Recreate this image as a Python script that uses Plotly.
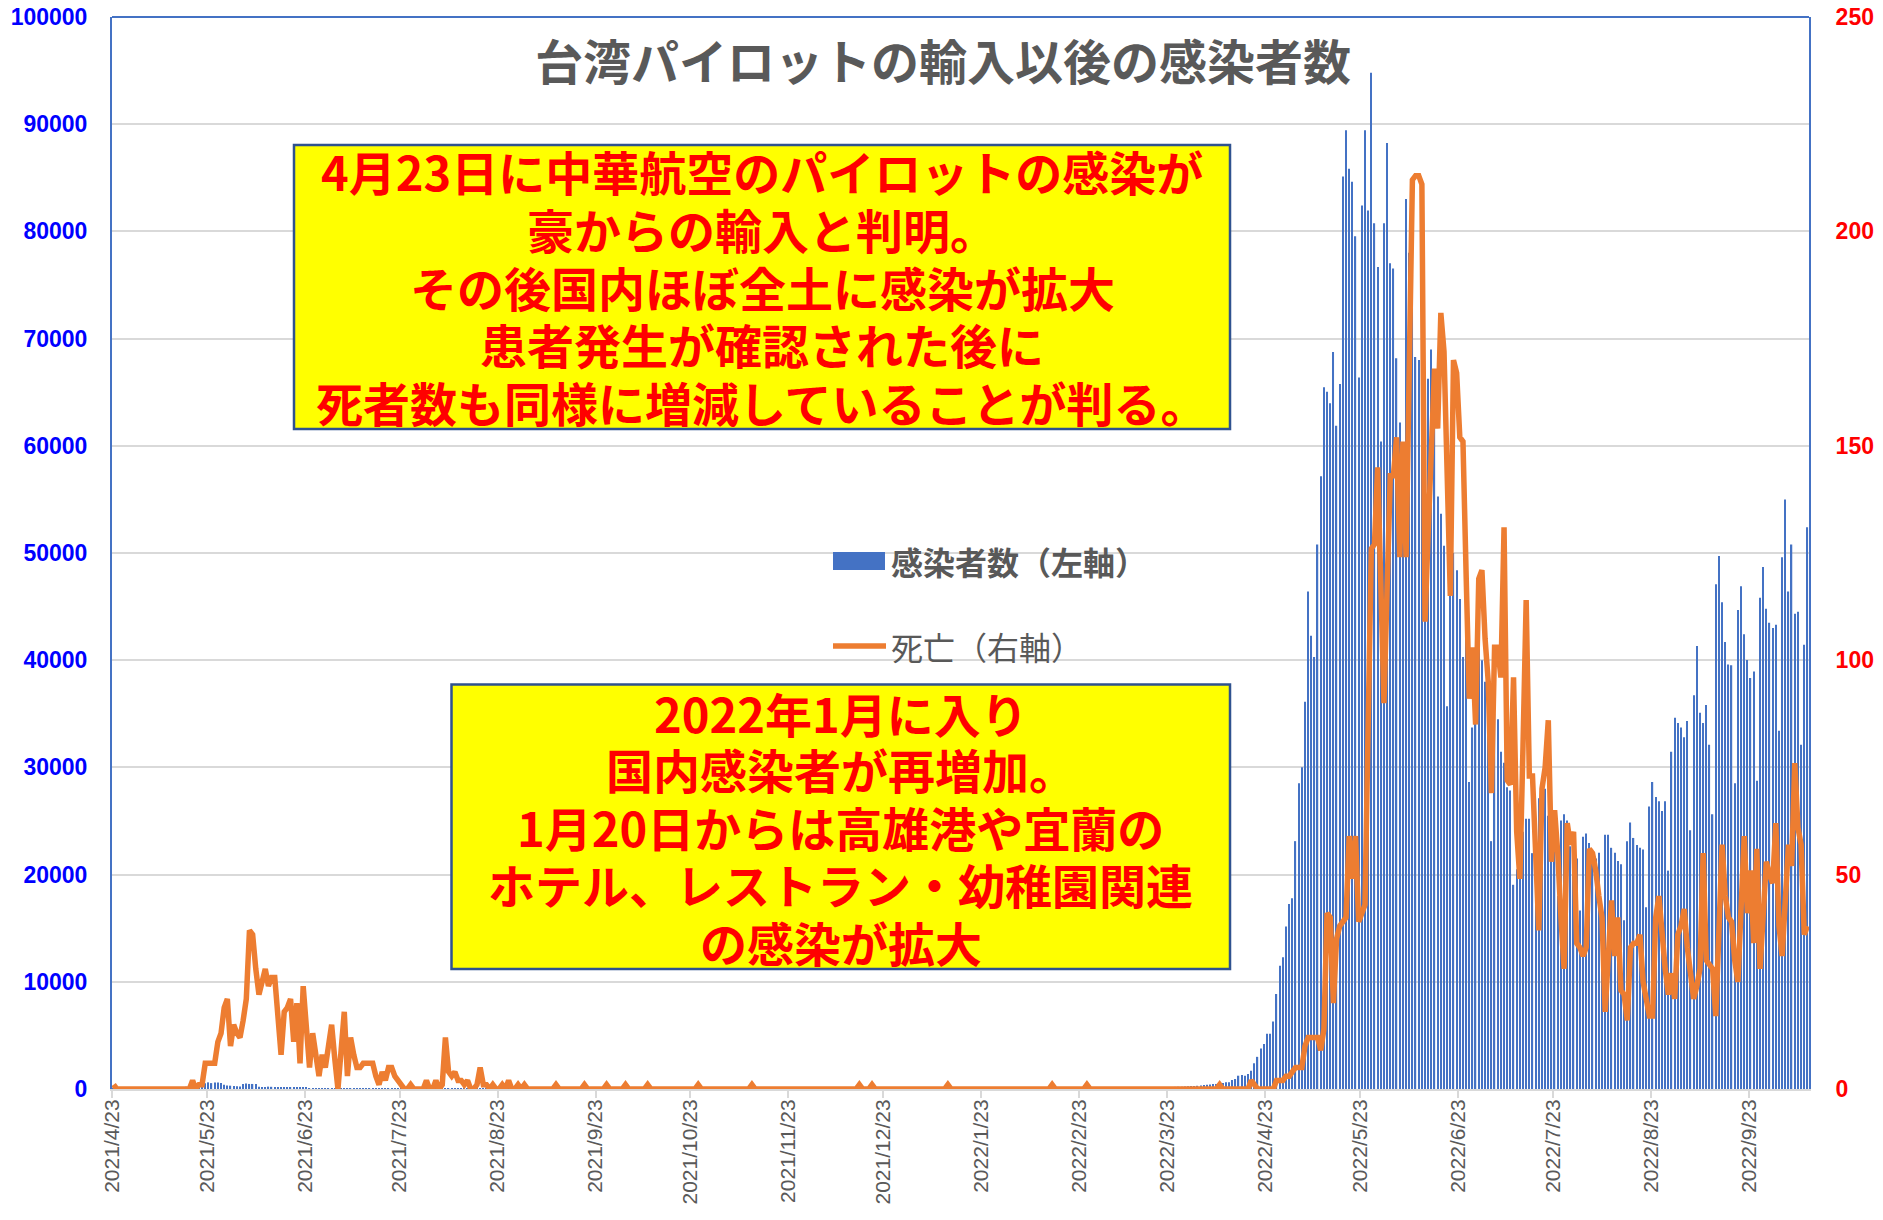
import datetime as dt
import plotly.graph_objects as go

START = "2021/4/23"

# daily new cases (left axis) - 2021-04-23 .. 2021-12-31
cases_2021 = [
    2, 1, 3, 2, 4, 1, 3, 2,
    3, 2, 1, 3, 4, 2, 3, 6, 5, 6, 16, 13, 16, 34, 185, 207, 335, 267, 286, 312, 321, 530, 620,
    550, 600, 600, 560, 400, 330, 310, 270,
    250, 230, 470, 510, 470, 470, 470, 220, 160, 165, 220, 205, 185, 190, 170, 150, 160, 135, 125, 130,
    105, 95, 100, 82, 78, 85, 66, 60, 64, 50,
    52, 40, 45, 38, 30, 33, 28, 35, 26, 22, 24, 30, 20, 18, 25, 21, 16, 19, 14, 23, 17, 12, 15, 20,
    13, 11, 16, 18, 10, 14, 12,
    12, 9, 15, 11, 8, 13, 16, 10, 7, 12, 9, 14, 11, 8, 10, 13, 6, 9, 12, 7, 11, 10, 8, 14, 9, 6, 12,
    10, 7, 11, 9,
    8, 12, 10, 6, 9, 14, 11, 7, 10, 8, 13, 9, 6, 11, 10, 8, 12, 7, 9, 11, 6, 10, 13, 8, 9, 7, 11, 10,
    6, 12,
    9, 7, 11, 8, 10, 12, 6, 9, 13, 8, 10, 7, 11, 9, 12, 8, 6, 10, 14, 9, 11, 7, 10, 8, 12, 9, 6, 11,
    10, 13, 8,
    10, 12, 9, 14, 11, 8, 13, 10, 15, 12, 9, 11, 16, 10, 13, 12, 8, 14, 11, 17, 10, 12, 15, 9, 13, 11,
    18, 14, 10, 16,
    12, 15, 11, 18, 14, 10, 16, 13, 19, 12, 15, 17, 11, 20, 14, 16, 18, 13, 21, 15, 17, 19, 14, 22,
    18, 16, 20, 24, 19, 23, 26,
]

# daily new cases (left axis) - 2022-01-01 .. 2022-10-11
cases_2022 = [
    23, 20, 35, 40, 48, 45, 38, 50, 60, 55, 62, 83, 66, 50, 80, 78, 94, 70, 64, 78, 82, 67, 58, 47,
    62, 59, 70, 52, 35, 34, 40,
    45, 38, 30, 34, 44, 50, 49, 52, 56, 53, 42, 41, 39, 45, 42, 60, 51, 53, 50, 55, 58, 62, 57, 64,
    48, 72, 78, 80,
    68, 80, 75, 70, 84, 90, 101, 95, 88, 99, 110, 105, 103, 118, 121, 130, 150, 138, 140, 155, 160,
    165, 170, 190, 195, 210, 220, 240, 260, 280, 290,
    300, 330, 380, 400, 430, 470, 470, 520, 560, 620, 620, 840, 930, 1240, 1300, 1240, 1400, 1700,
    2400, 3000, 3770, 4190, 5150, 5150, 6290, 8860, 11500, 12280, 15150, 17250,
    17790, 23120, 28510, 30010, 36120, 46420, 42290, 40310, 50800, 57150, 65470, 65050, 63970,
    68760, 61880, 65770, 85120, 89430, 85840, 84640, 79550, 66370, 82420, 89430, 81940, 94800,
    80750, 76670, 60400, 80750, 88240,
    77030, 76550, 68160, 62170, 58000, 83030, 78000, 76000, 68280, 68000, 64000, 50000, 66250,
    68990, 64000, 55280, 53660, 50680, 35700, 48000, 50000, 48400, 45700, 40310, 44500, 28630,
    33720, 40000, 42000, 40000,
    38000, 34920, 23120, 35000, 34500, 31450, 30430, 28150, 27850, 19050, 20500, 20300, 24000,
    25220, 25220, 22000, 17500, 27130, 25000, 28000, 25500, 25500, 25940, 18000, 25040, 25640,
    25040, 22640, 22500, 21500, 16650,
    23540, 23840, 22940, 22000, 21500, 22040, 16000, 23720, 23720, 22500, 22040, 21260, 20960,
    15750, 23120, 24860, 23420, 22760, 22500, 22340, 16950, 26360, 28630, 27250, 26840, 25940,
    26840, 20370, 31450, 34620, 34140,
    33720, 32820, 34320, 24140, 36720, 41330, 35100, 34140, 35820, 32110, 25640, 47080, 49720,
    45400, 41690, 39590, 39530, 28510, 44680, 46900, 42410, 40010, 38340, 38940, 28750, 45820,
    48700, 44800, 43490, 43010,
    43310, 33420, 49600, 54990, 46420, 50800, 44330, 44510, 32110, 41450, 52410,
]

# daily deaths (right axis) - 2021-04-23 .. 2021-12-31
deaths_2021 = [
    1, 0, 0, 0, 0, 0, 0, 0,
    0, 0, 0, 0, 0, 0, 0, 0, 0, 0, 0, 0, 0, 0, 0, 0, 0, 2, 0, 1, 1, 6, 6, 6, 6, 11, 13, 19, 21, 10, 15,
    13, 12, 16, 21, 37, 36, 28, 22, 25, 28, 24, 26, 26, 16, 8, 18, 19, 21, 11, 20, 6, 24, 14, 5, 13,
    8, 3, 8, 5, 10,
    15, 7, 0, 9, 18, 3, 12, 8, 5, 5, 6, 6, 6, 6, 3, 1, 4, 2, 5, 5, 3, 2, 1, 0, 0, 1, 0, 0, 0, 0, 2,
    0, 0, 2, 0, 1, 12, 4, 3, 4, 2, 2, 1, 2, 0, 0, 1, 5, 1, 1, 0, 1, 0, 0, 1, 0, 2, 0, 0, 1, 0, 1,
    0, 0, 0, 0, 0, 0, 0, 0, 0, 1, 0, 0, 0, 0, 0, 0, 0, 0, 1, 0, 0, 0, 0, 0, 0, 1, 0, 0, 0, 0,
    0, 1, 0, 0, 0, 0, 0, 0, 1, 0, 0, 0, 0, 0, 0, 0, 0, 0, 0, 0, 0, 0, 0, 0, 1, 0, 0, 0, 0, 0, 0,
    0, 0, 0, 0, 0, 0, 0, 0, 0, 0, 1, 0, 0, 0, 0, 0, 0, 0, 0, 0, 0, 0, 0, 0, 0, 0, 0, 0, 0, 0,
    0, 0, 0, 0, 0, 0, 0, 0, 0, 0, 0, 0, 0, 0, 1, 0, 0, 0, 1, 0, 0, 0, 0, 0, 0, 0, 0, 0, 0, 0, 0,
]

# daily deaths (right axis) - 2022-01-01 .. 2022-10-11
deaths_2022 = [
    0, 0, 0, 0, 0, 0, 0, 0, 0, 0, 0, 1, 0, 0, 0, 0, 0, 0, 0, 0, 0, 0, 0, 0, 0, 0, 0, 0, 0, 0, 0,
    0, 0, 0, 0, 0, 0, 0, 0, 0, 0, 0, 0, 0, 1, 0, 0, 0, 0, 0, 0, 0, 0, 0, 0, 1, 0, 0, 0,
    0, 0, 0, 0, 0, 0, 0, 0, 0, 0, 0, 0, 0, 0, 0, 0, 0, 0, 0, 0, 0, 0, 0, 0, 0, 0, 0, 0, 0, 0, 0,
    0, 0, 0, 0, 0, 0, 0, 1, 0, 0, 0, 0, 0, 0, 0, 0, 0, 2, 1, 0, 0, 0, 0, 0, 0, 2, 2, 2, 3, 3,
    4, 5, 5, 5, 10, 12, 12, 12, 12, 9, 14, 41, 40, 20, 35, 38, 39, 40, 59, 49, 59, 39, 41, 43, 85,
    126, 127, 145, 118, 90, 117,
    143, 143, 152, 124, 151, 124, 170, 212, 213, 213, 211, 109, 130, 150, 168, 154, 181, 172, 145,
    115, 170, 167, 152, 151, 120, 91, 103, 85, 119, 121,
    105, 95, 69, 103, 103, 96, 131, 72, 71, 96, 60, 49, 80, 114, 73, 73, 55, 37, 70, 75, 86, 53,
    65, 55, 40, 28, 62, 57, 60, 34, 33,
    31, 33, 56, 55, 51, 45, 40, 18, 30, 44, 31, 40, 23, 22, 16, 33, 34, 34, 36, 25, 21, 17, 17, 40,
    45, 36, 28, 22, 27, 21, 36,
    38, 42, 33, 27, 21, 24, 28, 55, 30, 29, 28, 17, 35, 57, 45, 40, 39, 30, 25, 40, 59, 41, 51, 34,
    56, 28, 40, 53, 50, 48,
    62, 38, 31, 45, 57, 52, 76, 61, 57, 36, 38,
]

tick_labels = [
    "2021/4/23", "2021/5/23", "2021/6/23", "2021/7/23", "2021/8/23", "2021/9/23",
    "2021/10/23", "2021/11/23", "2021/12/23", "2022/1/23", "2022/2/23", "2022/3/23",
    "2022/4/23", "2022/5/23", "2022/6/23", "2022/7/23", "2022/8/23", "2022/9/23",
]

title_text = "台湾パイロットの輸入以後の感染者数"
box1_lines = [
    "4月23日に中華航空のパイロットの感染が",
    "豪からの輸入と判明。",
    "その後国内ほぼ全土に感染が拡大",
    "患者発生が確認された後に",
    "死者数も同様に増減していることが判る。",
]
box2_lines = [
    "2022年1月に入り",
    "国内感染者が再増加。",
    "1月20日からは高雄港や宜蘭の",
    "ホテル、レストラン・幼稚園関連",
    "の感染が拡大",
]
bar_name = "感染者数（左軸）"
line_name = "死亡（右軸）"

# ---------------------------------------------------------------------------
cases = cases_2021 + cases_2022
deaths = deaths_2021 + deaths_2022
start = dt.datetime.strptime(START, "%Y/%m/%d")
n_days = len(cases)
xpos = [i + 0.5 for i in range(n_days)]  # each day centred in its category slot
tick_vals = [(dt.datetime.strptime(t, "%Y/%m/%d") - start).days for t in tick_labels]

# the page body keeps its default 8px margin; the figure fills the rest of the window
PAGE_OFF = 8
W, H = 1883 - 2 * PAGE_OFF, 1220 - 2 * PAGE_OFF
PL, PR, PT, PB = 112, 1809, 17, 1089          # plot area in window pixels
L, T = PL - PAGE_OFF, PT - PAGE_OFF
R = W - L - (PR - PL)
B = H - T - (PB - PT)
pw, ph = PR - PL, PB - PT


def px(x):
    return (x - PL) / pw


def py(y):
    return (PB - y) / ph


JP = "Noto Sans CJK JP"
BLUE = "#4472C4"
ORANGE = "#ED7D31"
GRID = "#D9D9D9"
GRAY = "#595959"

fig = go.Figure()
fig.add_trace(go.Bar(x=xpos, y=cases, name=bar_name, marker=dict(color=BLUE, line=dict(width=0)),
                     yaxis="y"))
fig.add_trace(go.Scatter(x=xpos, y=deaths, name=line_name, mode="lines",
                         line=dict(color=ORANGE, width=5.5), yaxis="y2"))

annotations = []
annotations.append(dict(text=title_text, x=px(943), y=py(59), xref="paper", yref="paper",
                        showarrow=False, xanchor="center", yanchor="middle",
                        font=dict(family=JP, size=48, color=GRAY, weight="bold")))

box1_y = [170.5, 228, 286, 343.5, 401]
for t, yy in zip(box1_lines, box1_y):
    annotations.append(dict(text=t, x=px(762), y=py(yy), xref="paper", yref="paper",
                            showarrow=False, xanchor="center", yanchor="middle",
                            font=dict(family=JP, size=47, color="#FF0000", weight="bold")))
box2_y = [712, 768.6, 826, 884, 941.5]
for t, yy in zip(box2_lines, box2_y):
    annotations.append(dict(text=t, x=px(840.6), y=py(yy), xref="paper", yref="paper",
                            showarrow=False, xanchor="center", yanchor="middle",
                            font=dict(family=JP, size=47, color="#FF0000", weight="bold")))

# legend (drawn in the middle of the plot like the original)
annotations.append(dict(text=bar_name, x=px(889), y=py(561), xref="paper", yref="paper",
                        showarrow=False, xanchor="left", yanchor="middle",
                        font=dict(family=JP, size=32, color=GRAY, weight="bold")))
annotations.append(dict(text=line_name, x=px(889), y=py(646), xref="paper", yref="paper",
                        showarrow=False, xanchor="left", yanchor="middle",
                        font=dict(family=JP, size=32, color=GRAY)))

shapes = [
    # yellow text boxes
    dict(type="rect", xref="paper", yref="paper", x0=px(294), x1=px(1230), y0=py(429), y1=py(145),
         fillcolor="#FFFF00", line=dict(color="#2F528F", width=2.5), layer="above"),
    dict(type="rect", xref="paper", yref="paper", x0=px(451.5), x1=px(1230), y0=py(969), y1=py(684.5),
         fillcolor="#FFFF00", line=dict(color="#2F528F", width=2.5), layer="above"),
    # legend keys
    dict(type="rect", xref="paper", yref="paper", x0=px(833), x1=px(885), y0=py(570), y1=py(552),
         fillcolor=BLUE, line=dict(width=0)),
    dict(type="line", xref="paper", yref="paper", x0=px(833), x1=px(886), y0=py(646), y1=py(646),
         line=dict(color=ORANGE, width=5.5)),
    # top border of plot area
    dict(type="line", xref="paper", yref="paper", x0=0, x1=1, y0=1, y1=1,
         line=dict(color=BLUE, width=2)),
]

fig.update_layout(
    width=W, height=H,
    margin=dict(l=L, r=R, t=T, b=B, pad=0, autoexpand=False),
    paper_bgcolor="white", plot_bgcolor="white",
    showlegend=False,
    bargap=0.6,
    font=dict(family=JP),
    annotations=annotations,
    shapes=shapes,
    xaxis=dict(range=[0, n_days], tickmode="array", tickvals=tick_vals, ticktext=tick_labels,
               tickangle=-90, ticks="outside", ticklen=7, tickwidth=2, tickcolor=GRID,
               showgrid=False, zeroline=False, showline=True, linecolor=GRID, linewidth=2,
               tickfont=dict(family="Liberation Sans", size=21, color=GRAY),
               ticklabelstandoff=-7, automargin=False),
    yaxis=dict(range=[0, 100000], dtick=10000, tickformat="d", showgrid=True, gridcolor=GRID,
               gridwidth=1.5, zeroline=False, showline=True, linecolor=BLUE, linewidth=2,
               ticks="", ticklabelstandoff=18, ticklabeloverflow="allow", automargin=False,
               tickfont=dict(family="Liberation Sans", size=23, color="#0000FF", weight="bold")),
    yaxis2=dict(range=[0, 250], dtick=50, overlaying="y", side="right", showgrid=False,
                zeroline=False, showline=True, linecolor=BLUE, linewidth=2, ticks="",
                ticklabelstandoff=20, ticklabeloverflow="allow", automargin=False,
                tickfont=dict(family="Liberation Sans", size=23, color="#FF0000", weight="bold")),
)

fig.write_html("out.html", config={"displayModeBar": False})
